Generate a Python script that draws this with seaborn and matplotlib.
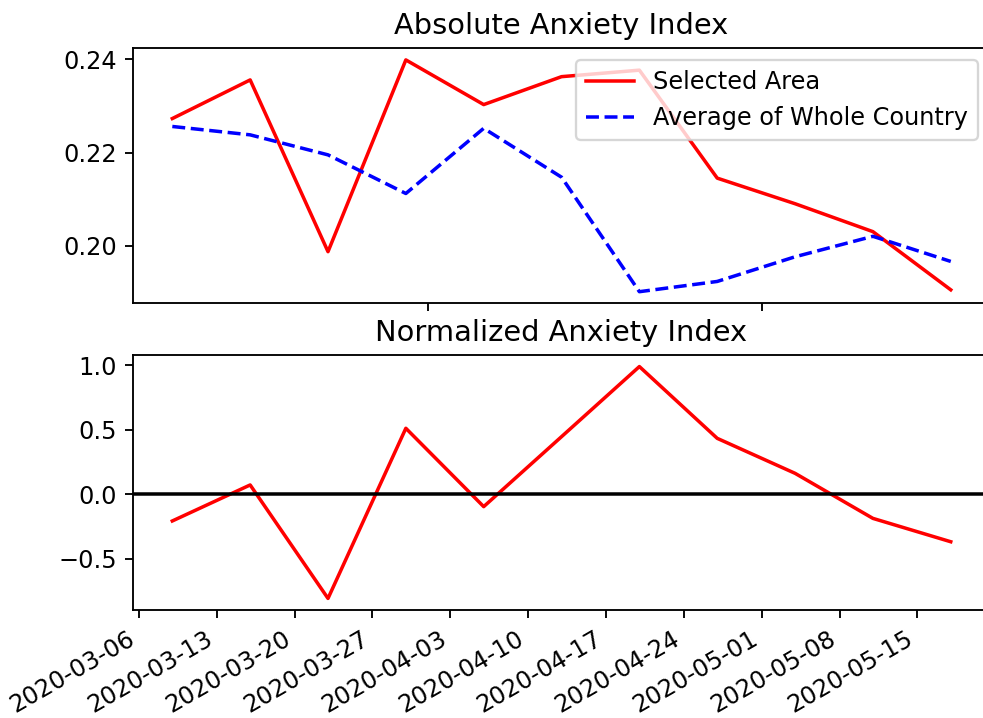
import pandas as pd
import seaborn as sns
import matplotlib.pyplot as plt
import matplotlib.dates as mdates

# weekly dates (Mondays)
dates = ["2020-03-09", "2020-03-16", "2020-03-23", "2020-03-30", "2020-04-06",
         "2020-04-13", "2020-04-20", "2020-04-27", "2020-05-04", "2020-05-11",
         "2020-05-18"]
selected_area = [0.2273, 0.2356, 0.1987, 0.2399, 0.2303, 0.2363,
                 0.2377, 0.2145, 0.2090, 0.2030, 0.1905]
country_avg = [0.2256, 0.2238, 0.2195, 0.2112, 0.2252, 0.2147,
               0.1901, 0.1923, 0.1976, 0.2020, 0.1966]
normalized = [-0.206, 0.073, -0.806, 0.512, -0.095, 0.447,
              0.990, 0.434, 0.163, -0.186, -0.367]

df = pd.DataFrame({"date": pd.to_datetime(dates),
                   "selected": selected_area,
                   "country": country_avg,
                   "norm": normalized})

plt.rcParams["font.size"] = 10.3
plt.rcParams["axes.titlesize"] = 12.4

dpi = 168
fig = plt.figure(figsize=(983 / dpi, 718 / dpi), dpi=dpi)
# the reference is cropped on the right, so the axes run past the edge
ax1 = fig.add_axes([0.1357, 0.5776, 0.8711, 0.3551])
ax2 = fig.add_axes([0.1357, 0.1504, 0.8711, 0.3552])

# top: absolute index
sns.lineplot(data=df, x="date", y="selected", color="red", label="Selected Area", ax=ax1)
sns.lineplot(data=df, x="date", y="country", color="blue", linestyle="--",
             label="Average of Whole Country", ax=ax1)
ax1.set_title("Absolute Anxiety Index")
ax1.set_xlabel("")
ax1.set_ylabel("")
ax1.set_yticks([0.20, 0.22, 0.24])
ax1.xaxis.set_major_locator(mdates.MonthLocator())
ax1.tick_params(labelbottom=False)
ax1.legend(loc="upper right")

# bottom: normalized index
sns.lineplot(data=df, x="date", y="norm", color="red", ax=ax2)
ax2.axhline(0, color="black", lw=1.5)
ax2.set_title("Normalized Anxiety Index")
ax2.set_xlabel("")
ax2.set_ylabel("")
ax2.xaxis.set_major_locator(mdates.WeekdayLocator(byweekday=mdates.FR))
ax2.xaxis.set_major_formatter(mdates.DateFormatter("%Y-%m-%d"))
for lbl in ax2.get_xticklabels():
    lbl.set_rotation(30)
    lbl.set_ha("right")

ax1.set_xlim(ax2.get_xlim())
for ax in (ax1, ax2):
    ax.spines["right"].set_visible(False)

fig.savefig("out.png", dpi=dpi)
